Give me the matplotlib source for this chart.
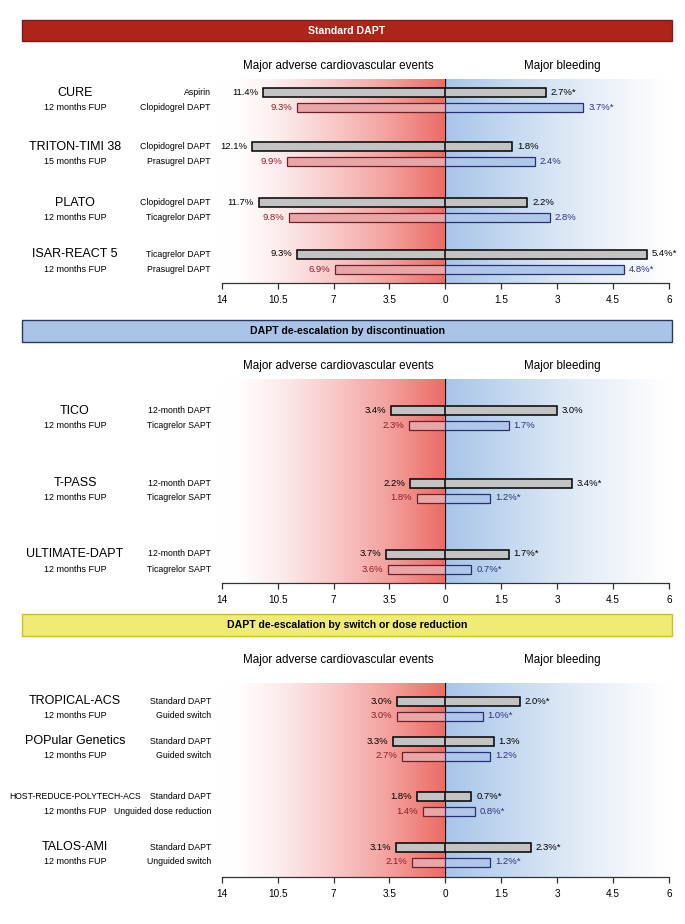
import numpy as np
import matplotlib
matplotlib.use('Agg')
import matplotlib.pyplot as plt
from matplotlib.colors import LinearSegmentedColormap
from matplotlib.patches import Rectangle

plt.rcParams['font.family'] = ['Liberation Sans', 'DejaVu Sans']

# ---------------- DATA ----------------
panel_titles = ["Standard DAPT",
                "DAPT de-escalation by discontinuation",
                "DAPT de-escalation by switch or dose reduction"]

studies1 = ["CURE", "TRITON-TIMI 38", "PLATO", "ISAR-REACT 5"]
fup1 = ["12 months FUP", "15 months FUP", "12 months FUP", "12 months FUP"]
ctrl_arm1 = ["Aspirin", "Clopidogrel DAPT", "Clopidogrel DAPT", "Ticagrelor DAPT"]
exp_arm1 = ["Clopidogrel DAPT", "Prasugrel DAPT", "Ticagrelor DAPT", "Prasugrel DAPT"]
ctrl_mace1 = [11.4, 12.1, 11.7, 9.3]
exp_mace1 = [9.3, 9.9, 9.8, 6.9]
ctrl_bleed1 = [2.7, 1.8, 2.2, 5.4]
exp_bleed1 = [3.7, 2.4, 2.8, 4.8]
ctrl_bleed_sig1 = [True, False, False, True]
exp_bleed_sig1 = [True, False, False, True]

studies2 = ["TICO", "T-PASS", "ULTIMATE-DAPT"]
fup2 = ["12 months FUP", "12 months FUP", "12 months FUP"]
ctrl_arm2 = ["12-month DAPT", "12-month DAPT", "12-month DAPT"]
exp_arm2 = ["Ticagrelor SAPT", "Ticagrelor SAPT", "Ticagrelor SAPT"]
ctrl_mace2 = [3.4, 2.2, 3.7]
exp_mace2 = [2.3, 1.8, 3.6]
ctrl_bleed2 = [3.0, 3.4, 1.7]
exp_bleed2 = [1.7, 1.2, 0.7]
ctrl_bleed_sig2 = [False, True, True]
exp_bleed_sig2 = [False, True, True]

studies3 = ["TROPICAL-ACS", "POPular Genetics", "HOST-REDUCE-POLYTECH-ACS", "TALOS-AMI"]
fup3 = ["12 months FUP", "12 months FUP", "12 months FUP", "12 months FUP"]
ctrl_arm3 = ["Standard DAPT", "Standard DAPT", "Standard DAPT", "Standard DAPT"]
exp_arm3 = ["Guided switch", "Guided switch", "Unguided dose reduction", "Unguided switch"]
ctrl_mace3 = [3.0, 3.3, 1.8, 3.1]
exp_mace3 = [3.0, 2.7, 1.4, 2.1]
ctrl_bleed3 = [2.0, 1.3, 0.7, 2.3]
exp_bleed3 = [1.0, 1.2, 0.8, 1.2]
ctrl_bleed_sig3 = [True, False, True, True]
exp_bleed_sig3 = [True, False, True, True]

left_ticks = [14, 10.5, 7, 3.5, 0]
left_ticklabels = ["14", "10.5", "7", "3.5", "0"]
right_ticks = [1.5, 3, 4.5, 6]
right_ticklabels = ["1.5", "3", "4.5", "6"]

# ---------------- LAYOUT ----------------
W, H = 685, 924
fig = plt.figure(figsize=(W / 100, H / 100), dpi=100)

def fx(px):
    return px / W

def fy(py):
    return 1 - py / H

X_L0, X_ZERO, X_R1 = 222, 445.3, 669
HDR_X0, HDR_X1 = 22, 672

layouts = [
    dict(hdr=(20, 41), title=66, top=79, axis=283, groups=[92.5, 146.5, 202.5, 254],
         fc='#AF2419', ec='#7A1B22', tc='white'),
    dict(hdr=(320, 342), title=366, top=379, axis=583, groups=[410.5, 483, 554],
         fc='#A8C5E7', ec='#2C3566', tc='black'),
    dict(hdr=(614, 636), title=660, top=683, axis=877, groups=[701, 741, 796.5, 847],
         fc='#EFEB74', ec='#C9C02A', tc='black'),
]
ROW_GAP = 15
BAR_H = 9

cmapL = LinearSegmentedColormap.from_list(
    'l', [(0, '#FFFFFF'), (0.08, '#FFFDFD'), (0.25, '#FDEDED'), (0.5, '#F8C9C8'),
          (0.75, '#F3A09D'), (1.0, '#EC6B63')])
cmapR = LinearSegmentedColormap.from_list(
    'r', [(0, '#A7C5E9'), (0.25, '#C0D6EF'), (0.5, '#D9E6F5'), (0.75, '#EEF3FA'),
          (1.0, '#FFFFFF')])
grad = np.linspace(0, 1, 512)[np.newaxis, :]

panels = [
    (studies1, fup1, ctrl_arm1, exp_arm1, ctrl_mace1, exp_mace1, ctrl_bleed1, exp_bleed1,
     ctrl_bleed_sig1, exp_bleed_sig1),
    (studies2, fup2, ctrl_arm2, exp_arm2, ctrl_mace2, exp_mace2, ctrl_bleed2, exp_bleed2,
     ctrl_bleed_sig2, exp_bleed_sig2),
    (studies3, fup3, ctrl_arm3, exp_arm3, ctrl_mace3, exp_mace3, ctrl_bleed3, exp_bleed3,
     ctrl_bleed_sig3, exp_bleed_sig3),
]

GRAY = '#C3C3C3'
PINK = '#E9A6A7'
PINK_EC = '#6E1F2C'
BLUE = '#AFC8E9'
BLUE_EC = '#2B2E72'
RED_TXT = '#8C1D2C'
BLUE_TXT = '#2E3178'
VAL_FS = 6.8

for title, lay, pdata in zip(panel_titles, layouts, panels):
    (studies, fups, carm, earm, cm, em, cb, eb, cbs, ebs) = pdata
    # header
    h0, h1 = lay['hdr']
    fig.patches.append(Rectangle((fx(HDR_X0), fy(h1)), fx(HDR_X1) - fx(HDR_X0), (h1 - h0) / H,
                                 transform=fig.transFigure, facecolor=lay['fc'],
                                 edgecolor=lay['ec'], lw=1.0))
    fig.text(fx((HDR_X0 + HDR_X1) / 2), fy((h0 + h1) / 2), title, ha='center', va='center',
             color=lay['tc'], fontsize=7.6, fontweight='bold',
             family=['Liberation Sans Narrow', 'Liberation Sans', 'DejaVu Sans'])
    fig.text(fx(338), fy(lay['title']), "Major adverse cardiovascular events",
             ha='center', va='center', fontsize=8.4)
    fig.text(fx(562), fy(lay['title']), "Major bleeding", ha='center', va='center', fontsize=8.4)

    top, axis = lay['top'], lay['axis']
    axL = fig.add_axes([fx(X_L0), fy(axis), fx(X_ZERO) - fx(X_L0), (axis - top) / H])
    axR = fig.add_axes([fx(X_ZERO), fy(axis), fx(X_R1) - fx(X_ZERO), (axis - top) / H])
    for ax in (axL, axR):
        ax.patch.set_alpha(0)
        for s in ('top', 'left', 'right'):
            ax.spines[s].set_visible(False)
        ax.spines['bottom'].set_color('#333333')
        ax.spines['bottom'].set_linewidth(0.9)
        ax.set_yticks([])
        ax.tick_params(axis='x', direction='out', length=4.5, width=0.9, color='#333333',
                       labelsize=7.2, pad=4)
    axL.imshow(grad, extent=(14, 0, axis, top), aspect='auto', cmap=cmapL, zorder=0,
               interpolation='bilinear')
    axR.imshow(grad, extent=(0, 6, axis, top), aspect='auto', cmap=cmapR, zorder=0,
               interpolation='bilinear')
    axL.set_xlim(14, 0)
    axR.set_xlim(0, 6)
    axL.set_ylim(axis, top)
    axR.set_ylim(axis, top)
    axL.set_xticks(left_ticks)
    axL.set_xticklabels(left_ticklabels)
    axR.set_xticks(right_ticks)
    axR.set_xticklabels(right_ticklabels)
    axR.axvline(0, color='black', lw=0.9, zorder=1)

    for i, gy in enumerate(lay['groups']):
        y1, y2 = gy, gy + ROW_GAP
        # bars
        axL.barh(y1, cm[i], height=BAR_H, color=GRAY, edgecolor='black', lw=1.1, zorder=3)
        axR.barh(y1, cb[i], height=BAR_H, color=GRAY, edgecolor='black', lw=1.1, zorder=3)
        axL.barh(y2, em[i], height=BAR_H, color=PINK, edgecolor=PINK_EC, lw=0.9, zorder=3)
        axR.barh(y2, eb[i], height=BAR_H, color=BLUE, edgecolor=BLUE_EC, lw=0.9, zorder=3)
        # value labels
        axL.annotate(f"{cm[i]:.1f}%", xy=(cm[i], y1), xytext=(-3.5, 0), textcoords='offset points',
                     ha='right', va='center', fontsize=VAL_FS, color='black')
        axL.annotate(f"{em[i]:.1f}%", xy=(em[i], y2), xytext=(-3.5, 0), textcoords='offset points',
                     ha='right', va='center', fontsize=VAL_FS, color=RED_TXT)
        axR.annotate(f"{cb[i]:.1f}%" + ("*" if cbs[i] else ""), xy=(cb[i], y1), xytext=(3.5, 0),
                     textcoords='offset points', ha='left', va='center', fontsize=VAL_FS,
                     color='black')
        axR.annotate(f"{eb[i]:.1f}%" + ("*" if ebs[i] else ""), xy=(eb[i], y2), xytext=(3.5, 0),
                     textcoords='offset points', ha='left', va='center', fontsize=VAL_FS,
                     color=BLUE_TXT)
        # study / arm labels
        name_fs = 9 if len(studies[i]) < 20 else 6.2
        fig.text(fx(75), fy(y1), studies[i], ha='center', va='center', fontsize=name_fs)
        fig.text(fx(75), fy(y2), fups[i], ha='center', va='center', fontsize=6.5)
        fig.text(fx(211), fy(y1), carm[i], ha='right', va='center', fontsize=6.3)
        fig.text(fx(211), fy(y2), earm[i], ha='right', va='center', fontsize=6.3)

fig.savefig('out.png', dpi=100)
